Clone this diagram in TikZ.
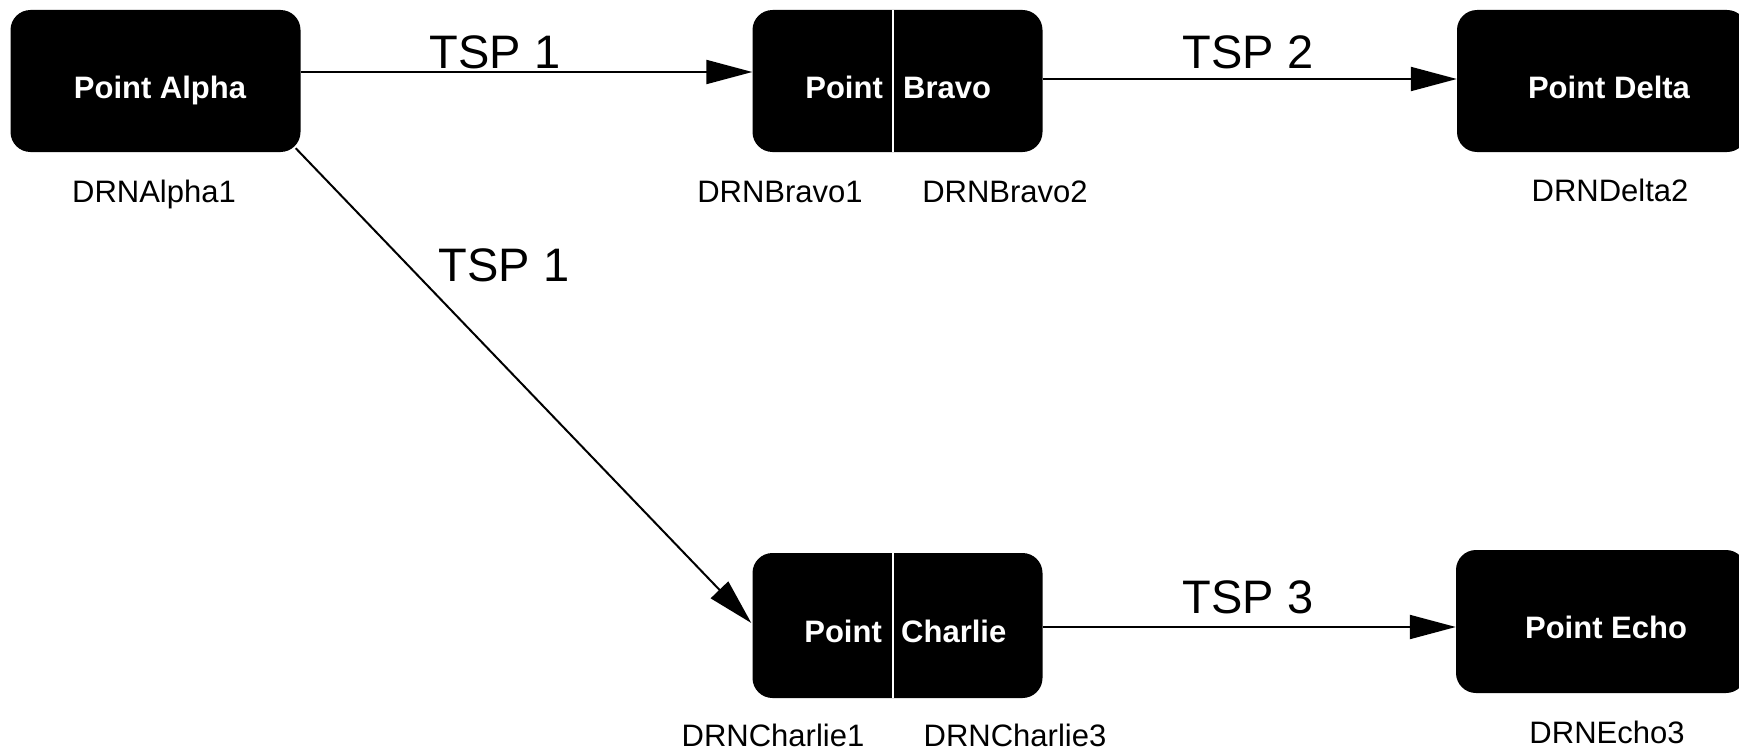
\documentclass[tikz,border=0pt]{standalone}
\usepackage{fontspec}
\setmainfont{Liberation Sans}
\usetikzlibrary{arrows.meta}
\begin{document}
\begin{tikzpicture}[x=1pt,y=-1pt,
  box/.style={fill=black, rounded corners=20pt, inner sep=0pt, minimum height=142pt, minimum width=290pt},
  btext/.style={text=white, font=\fontsize{31}{37}\selectfont\bfseries, inner sep=0pt},
  drn/.style={font=\fontsize{31}{37}\selectfont, inner sep=0pt, anchor=base},
  tsp/.style={font=\fontsize{47}{56}\selectfont, inner sep=0pt, anchor=base},
  conn/.style={line width=2pt, -{Triangle[length=46pt,width=24pt]}},
  divider/.style={white, line width=2pt}
]
\useasboundingbox[fill=white] (0,0) rectangle (1739,752);

% boxes
\node[box] (alpha) at (155.5,81) {};
\node[box] (bravo) at (897.5,81) {};
\node[box] (delta) at (1602,81) {};
\node[box, minimum height=145pt] (charlie) at (897.5,625.5) {};
\node[box, minimum height=143pt] (echo) at (1601,621.5) {};

% dividers
\draw[divider] (893,10) -- (893,152);
\draw[divider] (893,553) -- (893,698);

% box texts
\node[btext, anchor=base] (alphat) at (160,98) {Point Alpha};
\node[btext, anchor=base east] (bravot1) at (883,98) {Point};
\node[btext, anchor=base west] (bravot2) at (903,98) {Bravo};
\node[btext, anchor=base] (deltat) at (1609,98) {Point Delta};
\node[btext, anchor=base east] (charliet1) at (882,642) {Point};
\node[btext, anchor=base west] (charliet2) at (901,642) {Charlie};
\node[btext, anchor=base] (echot) at (1606,638) {Point Echo};

% DRN labels
\node[drn] (drnalpha1) at (154,202) {DRNAlpha1};
\node[drn] (drnbravo1) at (780,202) {DRNBravo1};
\node[drn] (drnbravo2) at (1005,202) {DRNBravo2};
\node[drn] (drndelta2) at (1610,201) {DRNDelta2};
\node[drn] (drncharlie1) at (773,746) {DRNCharlie1};
\node[drn] (drncharlie3) at (1015,746) {DRNCharlie3};
\node[drn] (drnecho3) at (1607,743) {DRNEcho3};

% TSP labels
\node[tsp] (tspab) at (495,68) {TSP 1};
\node[tsp] (tspbd) at (1248,68) {TSP 2};
\node[tsp] (tspac) at (504,281) {TSP 1};
\node[tsp] (tspce) at (1248,613) {TSP 3};

% connectors
\draw[conn] (alpha.east |- 0,72) -- (bravo.west |- 0,72);
\draw[conn] (bravo.east |- 0,79) -- (delta.west |- 0,79);
\draw[conn] (charlie.east |- 0,627) -- (echo.west |- 0,627);
\draw[conn] ([shift={(-5,-4)}]alpha.south east) -- ([shift={(-1,-2.5)}]charlie.west);
\end{tikzpicture}
\end{document}
